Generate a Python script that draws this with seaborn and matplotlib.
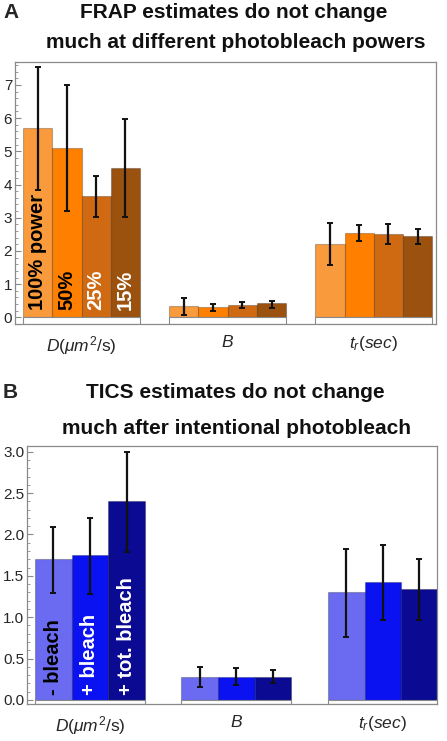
import numpy as np
import pandas as pd
import matplotlib
matplotlib.use('Agg')
import matplotlib.pyplot as plt
from matplotlib.ticker import MultipleLocator
import seaborn as sns

# parameter categories (x axis)
params = [r'$D(\mu m^2/\mathrm{s})$', r'$B$', r'$t_r(sec)$']

# Panel A: FRAP at different photobleach powers
frap_levels = ['100% power', '50%', '25%', '15%']
frap_colors = ['#F99A3C', '#FF8000', '#CF6A12', '#9C520F']
frap_text_colors = ['black', 'black', 'white', 'white']
frap_D = [5.69, 5.11, 3.64, 4.50]
frap_D_lo = [3.84, 3.20, 3.01, 3.01]
frap_D_hi = [7.55, 7.00, 4.26, 5.96]
frap_B = [0.33, 0.32, 0.38, 0.42]
frap_B_lo = [0.07, 0.20, 0.27, 0.29]
frap_B_hi = [0.57, 0.41, 0.47, 0.49]
frap_tr = [2.22, 2.55, 2.52, 2.45]
frap_tr_lo = [1.58, 2.31, 2.21, 2.21]
frap_tr_hi = [2.83, 2.77, 2.80, 2.66]

# Panel B: TICS before / after intentional photobleach
tics_levels = ['- bleach', '+ bleach', '+ tot. bleach']
tics_colors = ['#6B6BF2', '#0A12F2', '#0A0A92']
tics_text_colors = ['black', 'white', 'white']
tics_D = [1.70, 1.75, 2.40]
tics_D_lo = [1.29, 1.28, 1.79]
tics_D_hi = [2.09, 2.20, 3.00]
tics_B = [0.28, 0.28, 0.28]
tics_B_lo = [0.16, 0.18, 0.20]
tics_B_hi = [0.40, 0.38, 0.36]
tics_tr = [1.30, 1.43, 1.34]
tics_tr_lo = [0.76, 0.97, 0.97]
tics_tr_hi = [1.82, 1.87, 1.70]

sns.set_theme(style="white")
plt.rcParams['font.family'] = ['Liberation Sans', 'DejaVu Sans']
plt.rcParams['mathtext.fontset'] = 'custom'
plt.rcParams['mathtext.rm'] = 'Liberation Sans'
plt.rcParams['mathtext.it'] = 'Liberation Sans:italic'

FRAME = '#8a8a8a'


def draw_panel(ax, levels, colors, text_colors, vals, los, his, width, ylim, major, minor, fmt, xlim, text_y):
    n = len(levels)
    rows = []
    for i, p in enumerate(params):
        for j, lev in enumerate(levels):
            rows.append({'param': p, 'level': lev, 'value': vals[i][j]})
    df = pd.DataFrame(rows)
    sns.barplot(data=df, x='param', y='value', hue='level', order=params,
                hue_order=levels, palette=colors, saturation=1, width=width,
                errorbar=None, edgecolor=(0, 0, 0, 0.25), linewidth=0.8,
                legend=False, ax=ax)
    # asymmetric error bars
    for i in range(len(params)):
        for j in range(n):
            x = i + (j - (n - 1) / 2) * width / n
            v = vals[i][j]
            ax.errorbar(x, v, yerr=[[v - los[i][j]], [his[i][j] - v]], fmt='none',
                        ecolor='#111111', elinewidth=1.6, capsize=2.5, capthick=1.4, zorder=5)
    # white base boxes under each group
    ax.bar(range(len(params)), ylim[0], width=width, bottom=0, color='white',
           edgecolor=FRAME, linewidth=0.8, zorder=1)
    # labels inside the first group
    for j in range(n):
        x = (j - (n - 1) / 2) * width / n
        ax.text(x, text_y, levels[j], rotation=90, ha='center', va='bottom',
                color=text_colors[j], fontsize=14.5, fontweight='bold', zorder=6)
    ax.set_xlim(*xlim)
    ax.set_ylim(*ylim)
    ax.yaxis.set_major_locator(MultipleLocator(major))
    ax.yaxis.set_minor_locator(MultipleLocator(minor))
    ax.yaxis.set_major_formatter(plt.FormatStrFormatter(fmt))
    ax.tick_params(axis='y', which='major', direction='in', length=4, width=0.8,
                   color=FRAME, labelsize=11, pad=2, left=True)
    ax.tick_params(axis='y', which='minor', direction='in', length=2, width=0.6,
                   color=FRAME, left=True)
    ax.tick_params(axis='x', length=0, labelsize=12.5, pad=7)
    ax.set_xlabel('')
    ax.set_ylabel('')
    for s in ax.spines.values():
        s.set_color(FRAME)
        s.set_linewidth(0.9)


fig = plt.figure(figsize=(4.47, 7.41), dpi=100)
W, H = 447, 741

axA = fig.add_axes([15 / W, 1 - 324 / H, 421 / W, 262 / H])
draw_panel(axA, frap_levels, frap_colors, frap_text_colors,
           [frap_D, frap_B, frap_tr], [frap_D_lo, frap_B_lo, frap_tr_lo],
           [frap_D_hi, frap_B_hi, frap_tr_hi], 0.8, (-0.2, 7.69), 1, 0.2, '%d',
           (-0.455, 2.425), 0.22)

axB = fig.add_axes([27 / W, 1 - 704 / H, 410 / W, 258 / H])
draw_panel(axB, tics_levels, tics_colors, tics_text_colors,
           [tics_D, tics_B, tics_tr], [tics_D_lo, tics_B_lo, tics_tr_lo],
           [tics_D_hi, tics_B_hi, tics_tr_hi], 0.75, (-0.05, 3.07), 0.5, 0.1, '%.1f',
           (-0.43, 2.37), 0.06)

title_kw = dict(fontsize=15, fontweight='bold', ha='center', va='center', color='#111111')
fig.text(3 / W, 1 - 13 / H, 'A', fontsize=15, fontweight='bold', va='center')
fig.text(234 / W, 1 - 13 / H, 'FRAP estimates do not change', **title_kw)
fig.text(236 / W, 1 - 43 / H, 'much at different photobleach powers', **title_kw)
fig.text(3 / W, 1 - 393 / H, 'B', fontsize=15, fontweight='bold', va='center')
fig.text(235 / W, 1 - 393 / H, 'TICS estimates do not change', **title_kw)
fig.text(236 / W, 1 - 428 / H, 'much after intentional photobleach', **title_kw)

fig.savefig('out.png', dpi=100)
